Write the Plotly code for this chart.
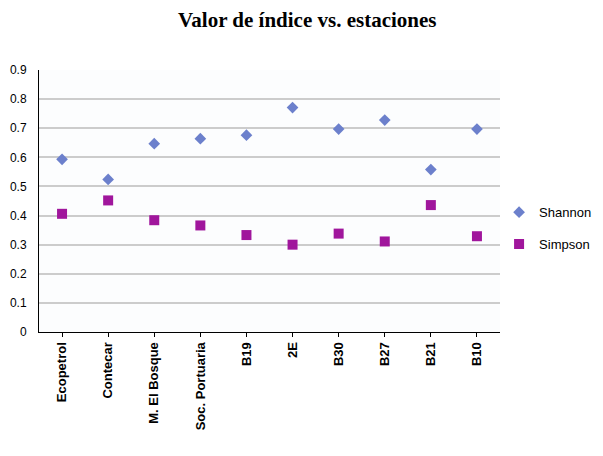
import plotly.graph_objects as go

estaciones = ["Ecopetrol", "Contecar", "M. El Bosque", "Soc. Portuaria", "B19",
              "2E", "B30", "B27", "B21", "B10"]
shannon = [0.593, 0.524, 0.647, 0.664, 0.676, 0.771, 0.697, 0.728, 0.558, 0.697]
simpson = [0.406, 0.452, 0.384, 0.366, 0.333, 0.300, 0.338, 0.311, 0.436, 0.329]
y_ticks = [0, 0.1, 0.2, 0.3, 0.4, 0.5, 0.6, 0.7, 0.8, 0.9]

# the page body adds an 8px margin, so the figure is 8px smaller each way
fig = go.Figure()
fig.add_trace(go.Scatter(
    x=estaciones, y=shannon, mode="markers", name="Shannon", legendgroup="a",
    marker=dict(symbol="diamond", size=9, color="#6c80cc"),
))
fig.add_trace(go.Scatter(
    x=estaciones, y=simpson, mode="markers", name="Simpson", legendgroup="b",
    marker=dict(symbol="square", size=10, color="#a0169c"),
))

fig.update_layout(
    width=595, height=448,
    margin=dict(l=31, r=103, t=62, b=124, autoexpand=False),
    paper_bgcolor="white",
    plot_bgcolor="#fcfdfe",
    showlegend=True,
    title=dict(
        text="<b>Valor de índice vs. estaciones</b>",
        x=0.503, xanchor="center", y=0.973, yanchor="middle",
        font=dict(family="Liberation Serif, Times New Roman, serif", size=21, color="black"),
    ),
    legend=dict(
        x=0.998, xanchor="left", y=0.396, yanchor="middle",
        font=dict(family="Arial, Liberation Sans", size=13, color="black"),
        bgcolor="rgba(0,0,0,0)", itemwidth=30,
        traceorder="grouped", tracegroupgap=12,
    ),
    font=dict(family="Arial, Liberation Sans", color="black"),
)
fig.update_xaxes(
    type="category", range=[-0.5, 9.5],
    showline=True, linecolor="black", linewidth=1,
    ticks="outside", ticklen=4, tickcolor="black",
    tickangle=-90, showgrid=False, automargin=False,
    tickfont=dict(family="Arial, Liberation Sans", size=13, color="black"),
    tickprefix="<b>", ticksuffix="</b>",
)
fig.update_yaxes(
    range=[0, 0.9], tickvals=y_ticks, ticktext=[str(t) for t in y_ticks],
    showline=True, linecolor="black", linewidth=1,
    ticks="outside", ticklen=9, tickcolor="rgba(0,0,0,0)",
    showgrid=True, gridcolor="#cccccc", gridwidth=1.5,
    zeroline=False, automargin=False,
    tickfont=dict(family="Arial, Liberation Sans", size=12, color="black"),
)

fig.write_html("out.html")
